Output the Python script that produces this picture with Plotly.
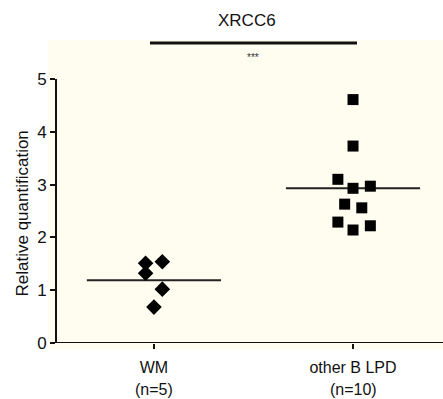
import plotly.graph_objects as go

categories = ["WM", "other B LPD"]
group_sizes = ["(n=5)", "(n=10)"]
wm_values = [1.51, 1.32, 1.54, 1.02, 0.68]
wm_jitter = [-0.042, -0.042, 0.042, 0.042, 0.0]
lpd_values = [4.61, 3.73, 3.10, 2.93, 2.97, 2.63, 2.56, 2.29, 2.14, 2.22]
lpd_jitter = [0.0, 0.0, -0.076, 0.0, 0.087, -0.042, 0.044, -0.076, 0.0, 0.087]
means = [1.19, 2.93]
y_ticks = [0, 1, 2, 3, 4, 5]

cream = "#FFFDF0"
font = "Liberation Sans, Arial, sans-serif"
ink = "#111111"

fig = go.Figure()
fig.add_trace(go.Scatter(
    x=[0 + j for j in wm_jitter], y=wm_values, mode="markers",
    marker=dict(symbol="diamond", size=12, color="black"),
    showlegend=False, cliponaxis=False))
fig.add_trace(go.Scatter(
    x=[1 + j for j in lpd_jitter], y=lpd_values, mode="markers",
    marker=dict(symbol="square", size=11, color="black"),
    showlegend=False, cliponaxis=False))

# mean lines
for i, m in enumerate(means):
    fig.add_shape(type="line", xref="x", yref="y", x0=i - 0.337, x1=i + 0.337,
                  y0=m, y1=m, line=dict(color="#222222", width=2), layer="below")

# cream background
fig.add_shape(type="rect", xref="paper", yref="paper", x0=-0.0207, x1=1.0,
              y0=-0.0265, y1=1.148, fillcolor=cream, line=dict(width=0), layer="below")

# axes lines
fig.add_shape(type="line", xref="paper", yref="y", x0=0, x1=0, y0=0, y1=5,
              line=dict(color=ink, width=2))
fig.add_shape(type="line", xref="paper", yref="y", x0=0, x1=1, y0=0, y1=0,
              line=dict(color=ink, width=2))

# significance bar
fig.add_shape(type="line", xref="x", yref="paper", x0=-0.02, x1=1.02,
              y0=1.136, y1=1.136, line=dict(color=ink, width=3))
fig.add_annotation(x=0.5, xref="x", y=(343 - 57) / 264, yref="paper", text="***",
                   xanchor="center", yanchor="middle", showarrow=False,
                   font=dict(size=10, color="#333333", family=font))
fig.add_annotation(x=0.4935, xref="paper", y=(343 - 20) / 264, yref="paper",
                   text="XRCC6", xanchor="center", yanchor="middle", showarrow=False,
                   font=dict(size=17, color=ink, family=font))

# y axis title
fig.add_annotation(x=(22 - 56) / 387, xref="paper", y=(343 - 213.5) / 264, yref="paper",
                   text="Relative quantification", textangle=-90, showarrow=False,
                   xanchor="center", yanchor="middle",
                   font=dict(size=17, color=ink, family=font))

# second line of category labels
for i, s in enumerate(group_sizes):
    fig.add_annotation(x=i, xref="x", y=(343 - 389) / 264, yref="paper", text=s,
                       xanchor="center", yanchor="middle", showarrow=False,
                       font=dict(size=16, color=ink, family=font))

fig.update_layout(
    width=443, height=399,
    margin=dict(l=56, r=0, t=79, b=56, autoexpand=False),
    paper_bgcolor="white", plot_bgcolor=cream,
    xaxis=dict(range=[-0.492, 1.452], tickvals=[0, 1], ticktext=categories,
               ticks="outside", ticklen=5, tickwidth=2, tickcolor=ink,
               ticklabelstandoff=5,
               showgrid=False, zeroline=False, showline=False, automargin=False,
               tickfont=dict(size=16, color=ink, family=font)),
    yaxis=dict(range=[0, 5], tickvals=y_ticks, ticks="outside", ticklen=5,
               tickwidth=2, tickcolor=ink, showgrid=False, zeroline=False,
               showline=False, automargin=False,
               tickfont=dict(size=17, color=ink, family=font)),
)

fig.write_html("out.html", config={"displayModeBar": False},
               post_script="document.body.style.margin='0';document.body.style.overflow='hidden';")
